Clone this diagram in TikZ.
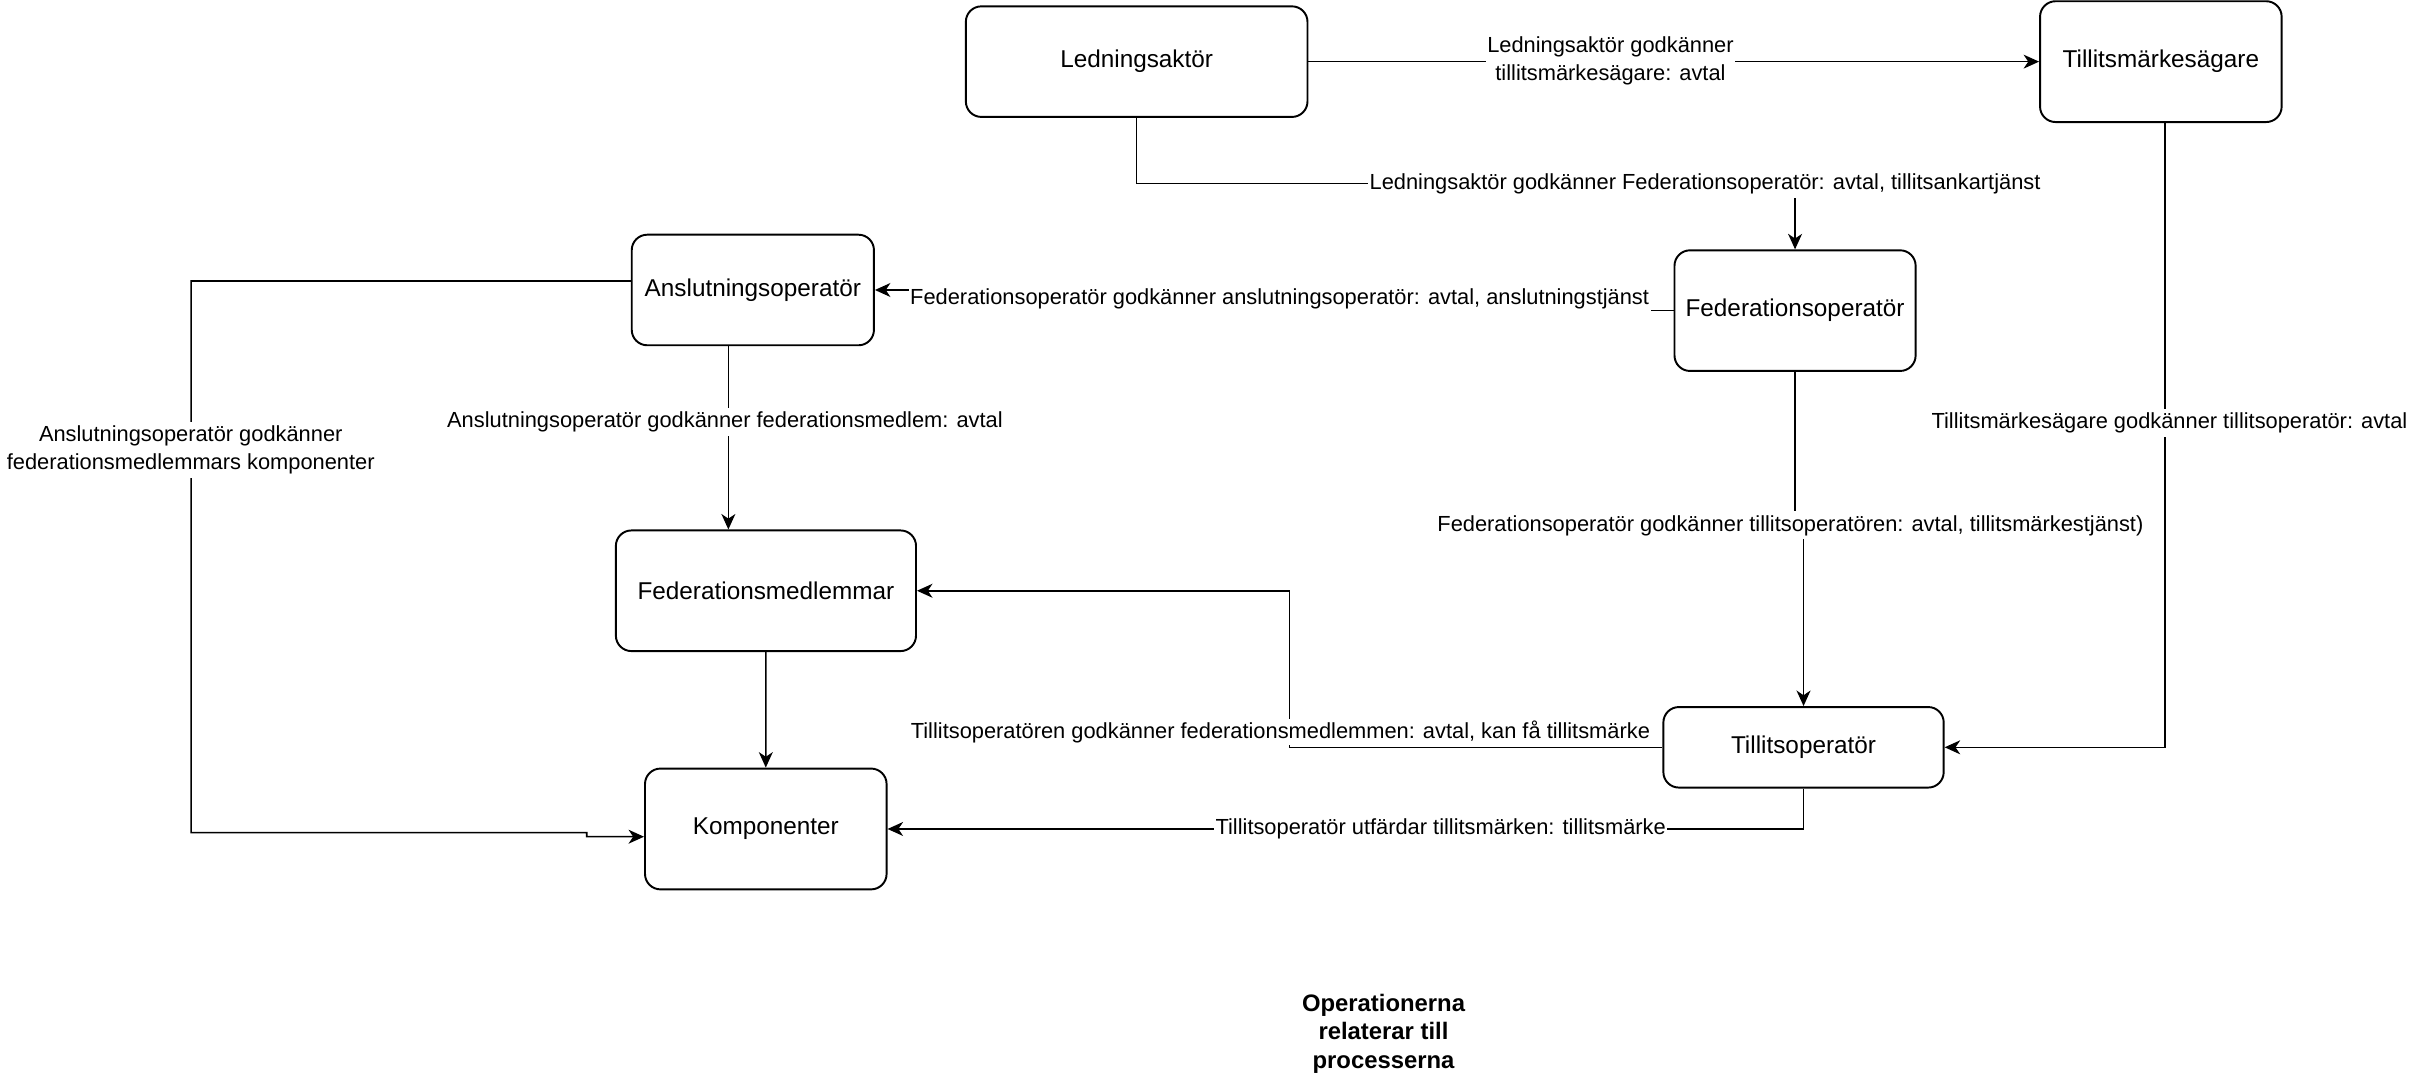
\documentclass[tikz,border=0pt]{standalone}
\usepackage{fontspec}
\setmainfont{Liberation Sans}
\usetikzlibrary{arrows.meta}
\begin{document}
\begin{tikzpicture}[x=0.9949pt,y=-0.9949pt,
  box/.style={draw, line width=1.25pt, rounded corners=10pt, font=\fontsize{15.7}{18}\selectfont, align=center, inner sep=0pt},
  edge/.style={line width=1pt, -{Stealth[length=10pt,width=9pt,inset=3pt]}},
  lbl/.style={fill=white, font=\fontsize{14.1}{18}\selectfont, align=center, inner xsep=1pt, inner ysep=2.5pt},
  ttl/.style={font=\fontsize{15.4}{18.3}\selectfont\bfseries, align=center, inner sep=0pt}
]
\useasboundingbox (0,0) rectangle (1568,698.3);

% nodes
\node[box, minimum width=220.6pt, minimum height=71.4pt] (led) at (737.7,40) {Ledningsaktör};
\node[box, minimum width=156pt, minimum height=78pt] (tms) at (1402.4,40) {Tillitsmärkesägare};
\node[box, minimum width=156.4pt, minimum height=71.4pt] (ans) at (488.6,188.2) {Anslutningsoperatör};
\node[box, minimum width=155.7pt, minimum height=77.9pt] (fop) at (1165,201.6) {Federationsoperatör};
\node[box, minimum width=193.8pt, minimum height=77.9pt] (fm) at (497.1,383.4) {Federationsmedlemmar};
\node[box, minimum width=181pt, minimum height=52pt] (top) at (1170.5,485) {Tillitsoperatör};
\node[box, minimum width=156pt, minimum height=78pt] (kom) at (497,538) {Komponenter};

% bend coordinates
\coordinate (c2) at (1165,119);
\coordinate (c3) at (830,194);
\coordinate (c5) at (124,540.4);
\coordinate (c5b) at (380.8,543);
\coordinate (c7) at (1167.5,341);
\coordinate (c9) at (837,434);

% connectors
\draw[edge] (led.east) -- (tms.west |- led.east);
\draw[edge] (led.south) |- (c2) -- (fop.north);
\draw[edge] (fop.west) -| (c3) |- (ans.east);
\draw[edge] ([xshift=-15.8pt]ans.south) -- ([xshift=-15.8pt]ans.south |- fm.north);
\draw[edge] ([yshift=5.8pt]ans.west) -| (c5) -| (c5b) -- ([yshift=-5pt]kom.west);
\draw[edge] (fm.south) -- (kom.north);
\draw[edge] (fop.south) |- (c7) -| (top.north);
\draw[edge] ([xshift=2.5pt]tms.south) |- (top.east);
\draw[edge] (top.west) -| (c9) |- (fm.east);
\draw[edge] (top.south) |- (kom.east);

% labels
\node[lbl] (l1) at (1045.2,39.5) {Ledningsaktör godkänner\\tillitsmärkesägare: avtal};
\node[lbl] (l2) at (1106.6,119.4) {Ledningsaktör godkänner Federationsoperatör: avtal, tillitsankartjänst};
\node[lbl] (l3) at (830.5,194) {Federationsoperatör godkänner anslutningsoperatör: avtal, anslutningstjänst};
\node[lbl] (l4) at (470.5,273.7) {Anslutningsoperatör godkänner federationsmedlem: avtal};
\node[lbl] (l5) at (123.8,291.8) {Anslutningsoperatör godkänner\\federationsmedlemmars komponenter};
\node[lbl] (l7) at (1162,341) {Federationsoperatör godkänner tillitsoperatören: avtal, tillitsmärkestjänst)};
\node[lbl] (l8) at (1408,274.5) {Tillitsmärkesägare godkänner tillitsoperatör: avtal};
\node[lbl, inner ysep=1pt] (l9) at (831,475) {Tillitsoperatören godkänner federationsmedlemmen: avtal, kan få tillitsmärke};
\node[lbl] (l10) at (935,538) {Tillitsoperatör utfärdar tillitsmärken: tillitsmärke};

\node[ttl] (title) at (897.9,670.8) {Operationerna\\relaterar till\\processerna};
\end{tikzpicture}
\end{document}
